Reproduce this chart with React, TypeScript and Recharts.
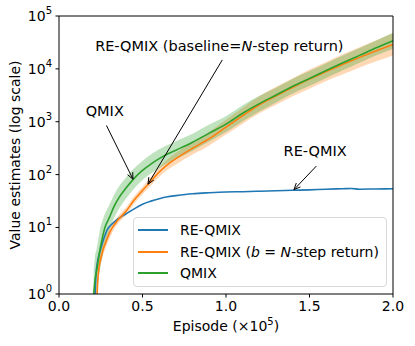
import React from 'react';
import {
  ComposedChart,
  Line,
  Area,
  XAxis,
  YAxis,
  Legend,
  ReferenceLine,
  ReferenceDot,
} from 'recharts';

// episodes in units of 1e5
const reQmixX = [0.216, 0.222, 0.23, 0.24, 0.25, 0.27, 0.29, 0.31, 0.34, 0.37, 0.4, 0.45, 0.5, 0.55, 0.6, 0.65, 0.7, 0.8, 0.9, 1.0, 1.1, 1.2, 1.3, 1.4, 1.5, 1.6, 1.7, 1.75, 1.8, 1.9, 2.0];
const reQmixY = [1, 2, 3, 3.9, 4.8, 7, 9.4, 11, 13.5, 15.8, 18, 22.5, 27.5, 31.5, 35, 38, 40, 43.5, 45.5, 47, 47.5, 48.5, 49.5, 50.5, 51.5, 53, 54, 54.5, 53, 53.5, 54];

const nstepX = [0.228, 0.235, 0.245, 0.26, 0.28, 0.3, 0.32, 0.35, 0.4, 0.45, 0.5, 0.55, 0.6, 0.65, 0.7, 0.8, 0.9, 1.0, 1.1, 1.2, 1.3, 1.4, 1.5, 1.6, 1.7, 1.8, 1.9, 2.0];
const nstepY = [1, 2, 3, 4.3, 6, 8, 10, 13.5, 20, 33, 50, 75, 112, 155, 200, 315, 480, 790, 1300, 2100, 3100, 4500, 6400, 8900, 12200, 16500, 22000, 29000];
const nstepSpread = [0.1, 0.1, 0.1, 0.09, 0.08, 0.08, 0.07, 0.07, 0.07, 0.07, 0.07, 0.08, 0.09, 0.1, 0.11, 0.12, 0.13, 0.14, 0.15, 0.16, 0.17, 0.17, 0.18, 0.18, 0.19, 0.19, 0.2, 0.21];

const qmixX = [0.208, 0.215, 0.225, 0.235, 0.245, 0.26, 0.275, 0.3, 0.33, 0.36, 0.4, 0.45, 0.5, 0.55, 0.6, 0.65, 0.7, 0.8, 0.9, 1.0, 1.1, 1.2, 1.3, 1.4, 1.5, 1.6, 1.7, 1.8, 1.9, 2.0];
const qmixY = [1, 1.6, 2.2, 3.2, 4.6, 7, 10, 15, 25, 37, 55, 85, 120, 158, 200, 245, 290, 410, 610, 900, 1450, 2200, 3200, 4700, 6600, 9300, 13000, 18000, 25000, 34000];
const qmixSpread = [0.35, 0.35, 0.33, 0.31, 0.3, 0.28, 0.26, 0.24, 0.22, 0.21, 0.2, 0.19, 0.18, 0.18, 0.18, 0.17, 0.17, 0.16, 0.16, 0.15, 0.15, 0.15, 0.14, 0.14, 0.14, 0.14, 0.14, 0.14, 0.14, 0.15];

const xTicks = [0, 0.5, 1, 1.5, 2];
const yExponents = [0, 1, 2, 3, 4, 5];

// annotation text anchors and arrows (episode, value)
const labelX = [0.96, 0.274, 1.534];
const labelY = [27000, 1620, 280];
const arrowFromX = [0.978, 0.284, 1.541];
const arrowFromY = [14800, 850, 145];
const arrowToX = [0.533, 0.443, 1.407];
const arrowToY = [66, 82, 52];

const legendOrder = ['RE-QMIX', 'nstep', 'QMIX'];

const BLUE = '#1f77b4';
const ORANGE = '#ff7f0e';
const GREEN = '#2ca02c';
const FONT = "'DejaVu Sans', sans-serif";

// axis is log above 10; the lowest decade is drawn a bit taller, as in the figure
const LOW_STRETCH = 66.7 / 53;
const tY = (v: number) => {
  const l = Math.log10(v);
  return l >= 1 ? l : 1 - LOW_STRETCH * (1 - l);
};

const lineRows = (xs: number[], ys: number[]) => xs.map((x, i) => ({ x, y: tY(ys[i]) }));
const bandRows = (xs: number[], ys: number[], sp: number[]) =>
  xs.map((x, i) => ({ x, band: [tY(Math.max(1, ys[i] / Math.pow(10, sp[i]))), tY(ys[i] * Math.pow(10, sp[i]))] }));

const reQmixData = lineRows(reQmixX, reQmixY);
const nstepData = lineRows(nstepX, nstepY);
const nstepBand = bandRows(nstepX, nstepY, nstepSpread);
const qmixData = lineRows(qmixX, qmixY);
const qmixBand = bandRows(qmixX, qmixY, qmixSpread);

const YTick = (props: any) => {
  const { x, y } = props;
  const e = yExponents[props.index];
  return (
    <text x={x} y={y} dy={5} textAnchor="end" fontFamily={FONT} fontSize={14} fill="#000">
      10<tspan dy={-7} fontSize={10}>{e}</tspan>
    </text>
  );
};

const Arrow = (props: any) => {
  const { x1, y1, x2, y2 } = props;
  const a = Math.atan2(y2 - y1, x2 - x1);
  const h = 7;
  const w = 0.42;
  return (
    <g>
      <line x1={x1} y1={y1} x2={x2} y2={y2} stroke="#000" strokeWidth={1} />
      <path
        d={`M${x2 - h * Math.cos(a - w)},${y2 - h * Math.sin(a - w)} L${x2},${y2} L${x2 - h * Math.cos(a + w)},${y2 - h * Math.sin(a + w)}`}
        fill="none"
        stroke="#000"
        strokeWidth={1}
      />
    </g>
  );
};

const labelText = [
  <>RE-QMIX (baseline=<tspan fontStyle="italic">N</tspan>-step return)</>,
  <>QMIX</>,
  <>RE-QMIX</>,
];

const legendLabels: Record<string, React.ReactNode> = {
  'RE-QMIX': <>RE-QMIX</>,
  nstep: <>RE-QMIX (<i>b</i> = <i>N</i>-step return)</>,
  QMIX: <>QMIX</>,
};

const LegendBox = (props: any) => {
  const items = (props.payload || [])
    .filter((p: any) => p.type !== 'none')
    .sort((a: any, b: any) => legendOrder.indexOf(a.value) - legendOrder.indexOf(b.value));
  return (
    <div
      style={{
        boxSizing: 'border-box',
        width: 254,
        height: 70,
        border: '1px solid #d9d9d9',
        borderRadius: 4,
        background: 'rgba(255,255,255,0.85)',
        paddingTop: 1,
        fontFamily: FONT,
        fontSize: 14,
        color: '#000',
      }}
    >
      {items.map((p: any) => (
        <div key={p.value} style={{ display: 'flex', alignItems: 'center', height: 21.7 }}>
          <div style={{ width: 30, height: 2, background: p.color, marginLeft: 4, marginRight: 12 }} />
          <span style={{ whiteSpace: 'nowrap' }}>{legendLabels[p.value]}</span>
        </div>
      ))}
    </div>
  );
};

export default function App() {
  return (
    <div style={{ position: 'absolute', left: 0, top: 0, width: 415, height: 346, background: '#fff' }}>
      <ComposedChart width={415} height={346} margin={{ top: 16, right: 22, bottom: 0, left: 0 }}>
        <XAxis
          xAxisId="b"
          dataKey="x"
          type="number"
          domain={[0, 2]}
          ticks={xTicks}
          tickFormatter={(v: number) => v.toFixed(1)}
          height={52}
          tickSize={3.5}
          tickMargin={3.5}
          stroke="#000"
          tick={{ fill: '#000', fontSize: 14, fontFamily: FONT }}
          label={{
            content: (p: any) => {
              const vb = p.viewBox;
              return (
                <text x={vb.x + vb.width / 2} y={331} textAnchor="middle" fontFamily={FONT} fontSize={14} fill="#000">
                  Episode (×10<tspan dy={-6} fontSize={10}>5</tspan>
                  <tspan dy={6}>)</tspan>
                </text>
              );
            },
          }}
        />
        <YAxis
          yAxisId="l"
          type="number"
          domain={[tY(1), 5]}
          ticks={yExponents.map((e) => tY(Math.pow(10, e)))}
          width={59}
          tickSize={3.5}
          tickMargin={3.5}
          stroke="#000"
          tick={<YTick />}
          label={{
            content: () => (
              <text x={15} y={155} transform="rotate(-90 15 155)" textAnchor="middle" dominantBaseline="central" fontFamily={FONT} fontSize={14} fill="#000">
                Value estimates (log scale)
              </text>
            ),
          }}
        />

        <Area xAxisId="b" yAxisId="l" type="monotone" data={nstepBand} dataKey="band" stroke="none" fill={ORANGE} fillOpacity={0.3} legendType="none" isAnimationActive={false} />
        <Area xAxisId="b" yAxisId="l" type="monotone" data={qmixBand} dataKey="band" stroke="none" fill={GREEN} fillOpacity={0.3} legendType="none" isAnimationActive={false} />
        <Line xAxisId="b" yAxisId="l" type="monotone" data={reQmixData} dataKey="y" name="RE-QMIX" stroke={BLUE} strokeWidth={1.6} dot={false} isAnimationActive={false} />
        <Line xAxisId="b" yAxisId="l" type="monotone" data={nstepData} dataKey="y" name="nstep" stroke={ORANGE} strokeWidth={1.6} dot={false} isAnimationActive={false} />
        <Line xAxisId="b" yAxisId="l" type="monotone" data={qmixData} dataKey="y" name="QMIX" stroke={GREEN} strokeWidth={1.6} dot={false} isAnimationActive={false} />

        {/* top and right spines */}
        <ReferenceLine xAxisId="b" yAxisId="l" y={5} stroke="#000" strokeWidth={1} ifOverflow="visible" />
        <ReferenceLine xAxisId="b" yAxisId="l" x={2} stroke="#000" strokeWidth={1} ifOverflow="visible" />

        {arrowFromX.map((fx, i) => (
          <ReferenceLine
            key={'a' + i}
            xAxisId="b"
            yAxisId="l"
            segment={[
              { x: fx, y: tY(arrowFromY[i]) },
              { x: arrowToX[i], y: tY(arrowToY[i]) },
            ]}
            shape={<Arrow />}
          />
        ))}
        {labelX.map((lx, i) => (
          <ReferenceDot
            key={'t' + i}
            xAxisId="b"
            yAxisId="l"
            x={lx}
            y={tY(labelY[i])}
            shape={(p: any) => (
              <text x={p.cx} y={p.cy} textAnchor="middle" dominantBaseline="central" fontFamily={FONT} fontSize={14.5} fill="#000">
                {labelText[i]}
              </text>
            )}
          />
        ))}

        <Legend
          layout="vertical"
          align="center"
          verticalAlign="middle"
          content={<LegendBox />}
          wrapperStyle={{ left: 133, top: 217, width: 254, height: 70 }}
        />
      </ComposedChart>
    </div>
  );
}
